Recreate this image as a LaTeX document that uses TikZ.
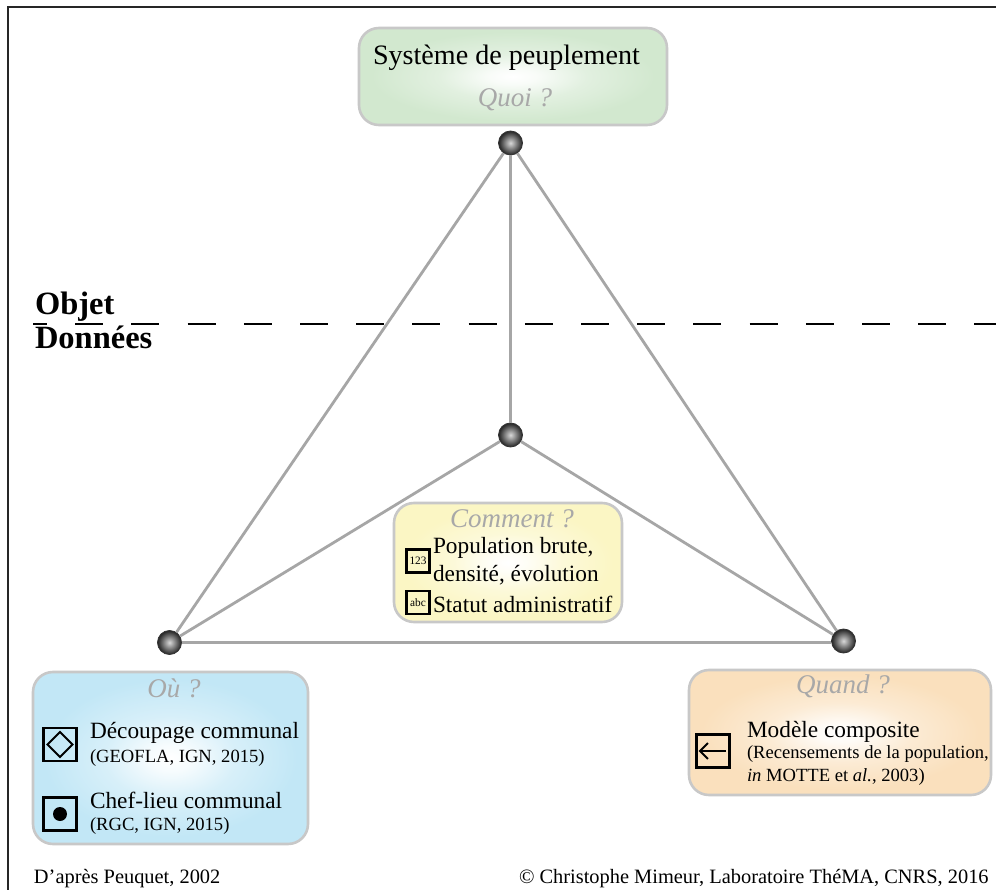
\documentclass[tikz,border=0pt]{standalone}
\usepackage{fontspec}
\setmainfont{Liberation Serif}
\usetikzlibrary{arrows.meta}
\definecolor{linegray}{HTML}{A6A6A6}
\definecolor{boxedge}{HTML}{C8C8C8}
\definecolor{asktext}{HTML}{A8A8A8}
\definecolor{glowgreen}{HTML}{D2E8CF}
\definecolor{glowyellow}{HTML}{FBF6C4}
\definecolor{glowblue}{HTML}{C2E7F6}
\definecolor{gloworange}{HTML}{FAE0BD}
\pgfdeclareradialshading{ballshade}{\pgfpoint{0bp}{0bp}}{color(0bp)=(black!15); color(7bp)=(black!35); color(15bp)=(black!58); color(22bp)=(black!78); color(25bp)=(black!85); color(50bp)=(black!85)}
\pgfdeclareradialshading{glowshadegreen}{\pgfpoint{0bp}{0bp}}{color(0bp)=(white); color(4bp)=(glowgreen!15); color(12bp)=(glowgreen!65); color(23bp)=(glowgreen); color(50bp)=(glowgreen)}
\pgfdeclareradialshading{glowshadeyellow}{\pgfpoint{0bp}{0bp}}{color(0bp)=(white); color(4bp)=(glowyellow!15); color(12bp)=(glowyellow!65); color(23bp)=(glowyellow); color(50bp)=(glowyellow)}
\pgfdeclareradialshading{glowshadeblue}{\pgfpoint{0bp}{0bp}}{color(0bp)=(white); color(4bp)=(glowblue!15); color(12bp)=(glowblue!65); color(23bp)=(glowblue); color(50bp)=(glowblue)}
\pgfdeclareradialshading{glowshadeorange}{\pgfpoint{0bp}{0bp}}{color(0bp)=(white); color(4bp)=(gloworange!15); color(12bp)=(gloworange!65); color(23bp)=(gloworange); color(50bp)=(gloworange)}
\tikzset{
  x=1pt,y=-1pt,
  glowbox/.style={draw=boxedge,line width=2.6pt,rounded corners=20pt,shading=glowshade#1},
  ball/.style={circle,draw=black!80,line width=0.8pt,minimum size=24pt,inner sep=0pt,shading=ballshade},
  link/.style={draw=linegray,line width=2.8pt},
  txt/.style={anchor=base west,inner sep=0pt,outer sep=0pt,text=black},
  ask/.style={anchor=base,inner sep=0pt,outer sep=0pt,text=asktext,font=\fontsize{27}{27}\selectfont\itshape},
  large/.style={txt,font=\fontsize{23.3}{23.3}\selectfont},
  small/.style={txt,font=\fontsize{18.6}{18.6}\selectfont},
  foot/.style={txt,font=\fontsize{20.4}{20.4}\selectfont},
  head/.style={txt,font=\fontsize{32.5}{32.5}\selectfont\bfseries},
  iconbox/.style={draw=black,line width=2.4pt,fill=none,inner sep=0pt,anchor=center},
}
\begin{document}
\begin{tikzpicture}
\useasboundingbox (0,0) rectangle (996,890);
\fill[white] (0,0) rectangle (996,890);
\coordinate (frameA) at (8,890);
\coordinate (frameB) at (8,7);
\coordinate (frameC) at (996,7);
\draw[black!85,line width=1.8pt] (frameA) -- (frameB) -- (frameC);
% boxes
\node[glowbox=green,minimum width=308pt,minimum height=97pt] (boxquoi) at (513,76.5) {};
\node[glowbox=yellow,minimum width=228pt,minimum height=119pt] (boxcomment) at (508,562.5) {};
\node[glowbox=blue,minimum width=275pt,minimum height=172pt] (boxou) at (170.5,758) {};
\node[glowbox=orange,minimum width=302pt,minimum height=125pt] (boxquand) at (840,732.5) {};
% balls
\node[ball] (top) at (510.5,143) {};
\node[ball] (mid) at (510.5,435) {};
\node[ball] (left) at (169.5,642.5) {};
\node[ball] (right) at (843.5,641) {};
% links
\draw[link] (top) -- (left);
\draw[link] (top) -- (right);
\draw[link] (top) -- (mid);
\draw[link] (mid) -- (left);
\draw[link] (mid) -- (right);
\draw[link] (left.east) -- (left.east -| right.west);
% dashed line
\coordinate (dashA) at (33,324.5);
\coordinate (dashB) at (996,324.5);
\draw[black,line width=2pt,dash pattern=on 28pt off 28.2pt,dash phase=14pt] (dashA) -- (dashB);
% heading
\node[head] (objet) at (35,315) {Objet};
\node[head] (donnees) at (35,349) {Données};
% quoi
\node[txt,font=\fontsize{28.1}{28.1}\selectfont] (systeme) at (373,65) {Système de peuplement};
\node[ask] (quoi) at (515,107) {Quoi ?};
% comment
\node[ask] (comment) at (512,527) {Comment ?};
\node[iconbox,minimum size=23pt] (icon123) at (418,561) {\fontsize{11.3}{11.3}\selectfont 123};
\node[iconbox,minimum size=23pt] (iconabc) at (418,602.5) {\fontsize{11.3}{11.3}\selectfont abc};
\node[large] (pop) at (433,553) {Population brute,};
\node[large] (dens) at (433,581) {densité, évolution};
\node[large] (statut) at (433,612) {Statut administratif};
% ou
\node[ask] (ou) at (174,697) {Où ?};
\node[iconbox,minimum size=33pt] (icondiamond) at (60,744.5) {};
\coordinate (dN) at (60,732);
\coordinate (dE) at (72.5,744.5);
\coordinate (dS) at (60,757);
\coordinate (dW) at (47.5,744.5);
\draw[black,line width=2pt] (dN) -- (dE) -- (dS) -- (dW) -- cycle;
\node[iconbox,minimum size=33pt] (icondot) at (60,814) {};
\fill[black] (icondot.center) circle (7pt);
\node[large] (decoup) at (90,738) {Découpage communal};
\node[small] (geofla) at (90,762) {(GEOFLA, IGN, 2015)};
\node[large] (chef) at (90,808) {Chef-lieu communal};
\node[small] (rgc) at (90,830) {(RGC, IGN, 2015)};
% quand
\node[ask] (quand) at (843,693) {Quand ?};
\node[iconbox,minimum size=33pt] (iconarrow) at (713,751) {};
\coordinate (arrA) at (726,751);
\coordinate (arrB) at (698.5,751);
\draw[black,line width=2pt,-{Straight Barb[length=8pt,width=16pt]}] (arrA) -- (arrB);
\node[large] (modele) at (747,737) {Modèle composite};
\node[small] (recens) at (747,758) {(Recensements de la population,};
\node[small] (motte) at (747,781) {\textit{in} MOTTE et \textit{al.}, 2003)};
% footer
\node[foot] (apres) at (34,883) {D’après Peuquet, 2002};
\node[foot] (copy) at (519,883) {© Christophe Mimeur, Laboratoire ThéMA, CNRS, 2016};
\end{tikzpicture}
\end{document}
